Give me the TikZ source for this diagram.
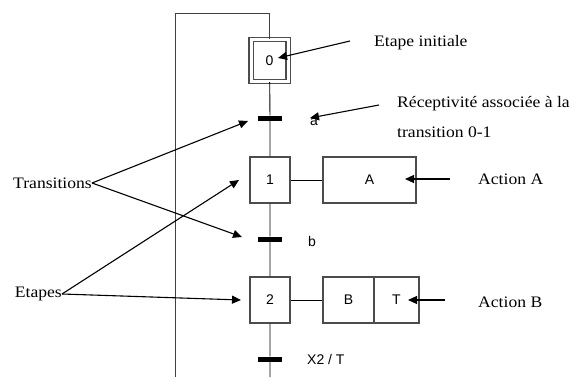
\documentclass[tikz,border=0pt]{standalone}
\usepackage{fontspec}
\setmainfont{Liberation Serif}
\setsansfont{Liberation Sans}
\newfontfamily\legendfont[FakeStretch=1.1]{Liberation Serif}
\usetikzlibrary{arrows.meta}
\begin{document}
\begin{tikzpicture}[x=1pt, y=-1pt,
		etape/.style={draw=black!70, line width=1.3pt, fill=white, minimum width=40pt, minimum height=46pt, inner sep=0pt, font=\sffamily\fontsize{14}{16}\selectfont},
		trans/.style={fill=black, minimum width=24pt, minimum height=5pt, inner sep=0pt},
		action/.style={etape, minimum width=#1},
		recept/.style={font=\sffamily\fontsize{14}{16}\selectfont, anchor=west, inner sep=0pt},
		legende/.style={font=\legendfont\fontsize{16}{18}\selectfont, inner sep=0pt},
		fleche/.style={-{Triangle[length=9pt, width=8pt]}, line width=1.1pt}]
		\useasboundingbox (0,0) rectangle (577,377);
		% Etape initiale (double cadre)
		\node[etape, double, double distance=3pt, minimum width=37pt, minimum height=42pt] (e0) at (269.5,60.5) {0};
		% Etapes 1 et 2
		\node[etape] (e1) at (270,180) {1};
		\node[etape] (e2) at (270,300) {2};
		% Transitions
		\node[trans] (t1) at (270,118) {};
		\node[trans] (t2) at (270,239) {};
		\node[trans] (t3) at (270,359) {};
		% Receptivites
		\node[recept] (ra) at (310,122) {a};
		\node[recept] (rb) at (308,241) {b};
		\node[recept] (rc) at (307,359) {X2 / T};
		% Actions
		\node[action=93pt] (actA) at (369.5,180) {A};
		\node[action=51pt] (actB) at (348.5,300) {B};
		\node[action=45pt] (actT) at (396.5,300) {T};
		% Liaisons verticales
		\coordinate (bas) at (270,377);
		\coordinate (bouclehaut) at (175,13);
		\coordinate (bouclebas) at (175,377);
		\draw[line width=0.9pt] (e0) -- (t1) -- (e1) -- (t2) -- (e2) -- (t3) -- (bas);
		\draw[line width=0.9pt, black!75] (e0.north) |- (bouclehaut) -- (bouclebas);
		\draw[line width=0.9pt] (e1) -- (actA);
		\draw[line width=0.9pt] (e2) -- (actB);
		% Legendes
		\node[legende, anchor=west] (lini) at (374,43) {Etape initiale};
		\node[legende, anchor=north west, align=left, font=\legendfont\fontsize{16}{30}\selectfont] (lrec) at (397,96) {Réceptivité associée à la\\transition 0-1};
		\node[legende, anchor=east] (ltrans) at (92,183) {Transitions};
		\node[legende, anchor=east] (letapes) at (62,294) {Etapes};
		\node[legende, anchor=west] (lactA) at (478,179) {Action A};
		\node[legende, anchor=west] (lactB) at (478,302) {Action B};
		% Extremites des fleches
		\coordinate (inidep) at (350,41);
		\coordinate (iniarr) at (278,58);
		\coordinate (recdep) at (379,105);
		\coordinate (trans1) at (248,121);
		\coordinate (trans2) at (242,237);
		\coordinate (etape1) at (239,180);
		\coordinate (etape2) at (241,300);
		\coordinate (actAdep) at (450,179);
		\coordinate (actAarr) at (405,179);
		\coordinate (actBdep) at (445,300);
		\coordinate (actBarr) at (408,300);
		% Fleches
		\draw[fleche] (inidep) -- (iniarr);
		\draw[fleche] (recdep) -- (ra.north west);
		\draw[fleche] (ltrans.east) -- (trans1);
		\draw[fleche] (ltrans.east) -- (trans2);
		\draw[fleche] (letapes.east) -- (etape1);
		\draw[fleche] (letapes.east) -- (etape2);
		\draw[fleche] (actAdep) -- (actAarr);
		\draw[fleche] (actBdep) -- (actBarr);
	\end{tikzpicture}
\end{document}
